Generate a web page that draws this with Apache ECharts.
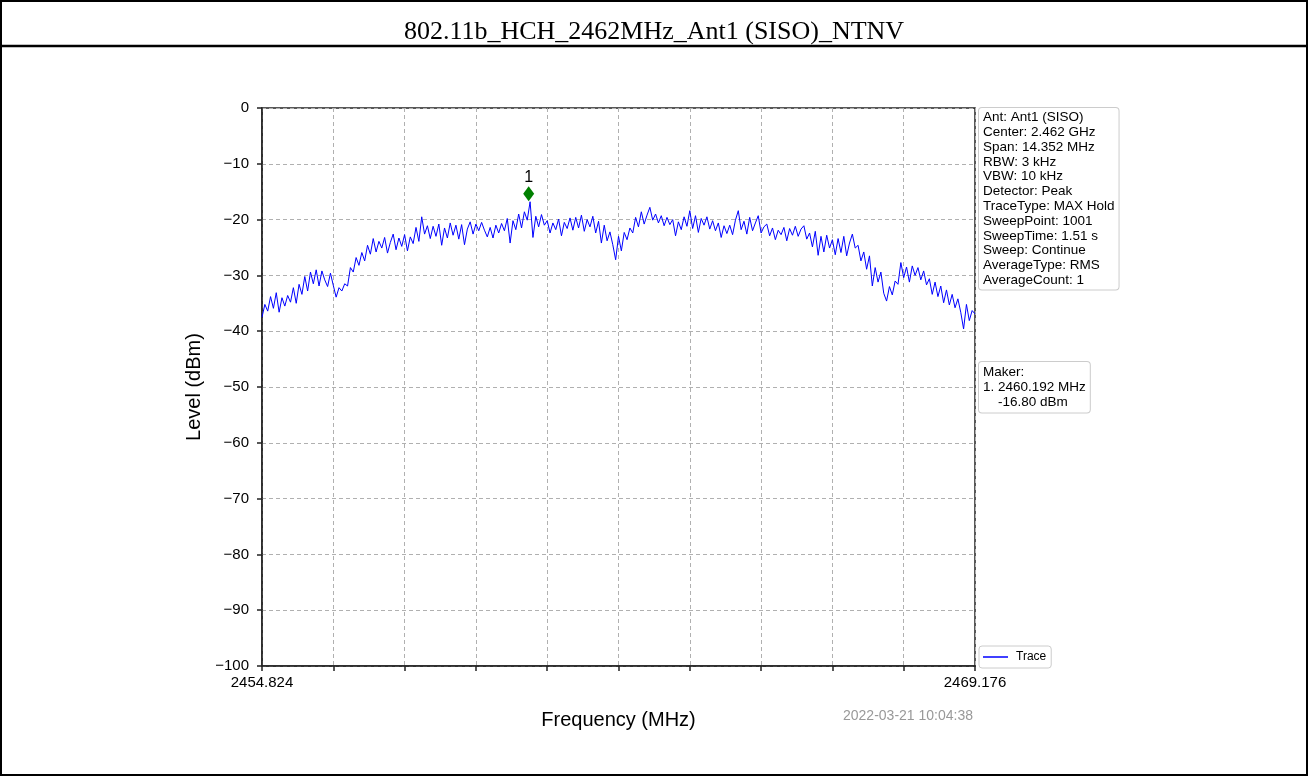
<!DOCTYPE html>
<html>
<head>
<meta charset="utf-8">
<title>802.11b_HCH_2462MHz_Ant1 (SISO)_NTNV</title>
<script src="https://cdn.jsdelivr.net/npm/echarts@6/dist/echarts.min.js"></script>
<style>
  html, body { margin: 0; padding: 0; background: #fff; }
  #chart { width: 1308px; height: 776px; }
</style>
</head>
<body>
<div id="chart"></div>
<script>
// sweep settings (1001 points over the span)
const startFreq = 2454.824;
const stopFreq = 2469.176;
const sweepPoints = 1001;
const sampleStep = 4; // every 4th sweep point

const xTickLabels = ['2454.824', '', '', '', '', '', '', '', '', '', '2469.176'];

// level (dBm) at sweep point 0, 4, 8 ... 1000
const levels = [
  -37.5, -35.2, -36.4, -33.8, -35.9, -33.1, -36.6, -34.0, -35.5, -33.6,
  -34.8, -32.2, -35.0, -31.6, -33.4, -30.2, -32.8, -29.4, -31.5, -29.0,
  -31.9, -29.2, -30.8, -32.0, -29.6, -31.8, -33.9, -32.2, -32.8, -31.5,
  -31.9, -28.6, -29.4, -26.8, -28.2, -25.9, -27.4, -24.6, -26.2, -23.4,
  -25.8, -23.9, -25.1, -23.2, -26.0, -24.1, -22.6, -25.4, -23.3, -24.8,
  -22.7, -25.6, -23.1, -24.3, -21.4, -23.9, -19.5, -22.6, -21.1, -23.4,
  -21.2, -23.0, -20.8, -24.6, -21.5, -23.3, -20.6, -22.8, -21.0, -23.5,
  -20.9, -24.5, -21.7, -20.4, -22.6, -20.8, -22.0, -20.5, -21.9, -23.1,
  -21.4, -23.3, -21.0, -22.4, -20.7, -22.0, -19.8, -24.2, -20.2, -21.8,
  -19.0, -21.5, -18.6, -20.1, -16.8, -23.2, -19.4, -21.3, -19.1, -21.0,
  -20.2, -22.4, -20.6, -21.8, -19.9, -22.9, -20.5, -21.6, -19.7, -21.9,
  -19.6, -21.5, -19.2, -22.1, -20.0, -21.3, -19.4, -22.4, -20.3, -24.2,
  -21.0, -23.8, -22.2, -24.5, -27.2, -23.0, -25.6, -22.3, -23.6, -21.5,
  -22.4, -19.6, -21.3, -18.6, -20.8, -19.2, -17.8, -20.1, -19.0, -20.6,
  -19.3, -21.1, -19.6, -20.9, -20.0, -22.9, -20.4, -21.8, -19.5, -21.2,
  -18.4, -21.6, -19.3, -22.3, -19.8, -21.0, -19.5, -21.7, -20.2, -22.0,
  -20.6, -23.2, -21.1, -22.5, -21.0, -22.7, -20.1, -18.4, -21.8, -20.3,
  -22.6, -19.6, -22.0, -20.6, -19.3, -22.4, -21.3, -20.8, -22.9, -21.5,
  -23.6, -21.9, -22.7, -21.4, -23.8, -21.6, -22.8, -21.2, -23.0, -21.7,
  -21.1, -23.5, -22.4, -24.9, -22.1, -26.4, -23.0, -25.8, -22.8, -25.1,
  -23.6, -26.3, -23.4, -25.9, -23.0, -26.5, -24.2, -22.6, -25.1, -24.6,
  -27.4, -25.8, -28.9, -26.5, -31.9, -28.6, -31.2, -29.4, -33.2, -34.6,
  -32.0, -33.5, -31.0, -31.6, -27.7, -30.4, -28.5, -31.2, -28.3, -30.0,
  -28.6, -30.8, -29.2, -31.7, -30.6, -33.4, -31.2, -33.8, -31.9, -34.9,
  -32.6, -35.3, -33.4, -35.8, -34.2, -36.6, -39.6, -35.2, -38.1, -36.3,
  -36.9
];

// marker 1
const markerFreq = 2460.192;
const markerLevel = -16.80;

const infoLines = [
  'Ant: Ant1 (SISO)',
  'Center: 2.462 GHz',
  'Span: 14.352 MHz',
  'RBW: 3 kHz',
  'VBW: 10 kHz',
  'Detector: Peak',
  'TraceType: MAX Hold',
  'SweepPoint: 1001',
  'SweepTime: 1.51 s',
  'Sweep: Continue',
  'AverageType: RMS',
  'AverageCount: 1'
];
const markerLines = [
  'Maker:',
  '1. 2460.192 MHz',
  '    -16.80 dBm'
];
const timeStamp = '2022-03-21 10:04:38';

const lastPoint = sweepPoints - 1;
const traceData = levels.map((v, i) => [i * sampleStep, v]);
const markerIdx = (markerFreq - startFreq) / (stopFreq - startFreq) * lastPoint;

const sans = '"Liberation Sans", Arial, sans-serif';

let myChart = echarts.init(document.getElementById('chart'));
let option = {
  animation: false,
  backgroundColor: '#fff',
  title: {
    text: '802.11b_HCH_2462MHz_Ant1 (SISO)_NTNV',
    left: 'center',
    top: 14,
    textStyle: {
      fontFamily: '"Liberation Serif", "Times New Roman", serif',
      fontSize: 26,
      fontWeight: 'normal',
      color: '#000'
    }
  },
  grid: {
    left: 262,
    right: 333,
    top: 108,
    bottom: 110,
    show: true,
    borderColor: '#222',
    borderWidth: 1.5,
    backgroundColor: 'transparent'
  },
  legend: {
    data: ['Trace'],
    left: 979,
    top: 646,
    icon: 'rect',
    itemWidth: 25,
    itemHeight: 1.5,
    padding: [5, 5, 5, 4],
    backgroundColor: '#fff',
    borderColor: '#ccc',
    borderWidth: 1,
    borderRadius: 3,
    textStyle: { fontFamily: sans, fontSize: 12, color: '#000', padding: [0, 0, 0, 3] }
  },
  xAxis: {
    type: 'value',
    min: 0,
    max: lastPoint,
    interval: 100,
    name: 'Frequency (MHz)',
    nameLocation: 'middle',
    nameGap: 44,
    nameTextStyle: { fontFamily: sans, fontSize: 20, color: '#000' },
    axisLine: { onZero: false, lineStyle: { color: '#222', width: 1.5 } },
    axisTick: { length: 5, inside: false, lineStyle: { color: '#222', width: 1.5 } },
    axisLabel: {
      fontFamily: sans,
      fontSize: 15,
      color: '#000',
      margin: 9,
      showMinLabel: true,
      showMaxLabel: true,
      formatter: (v) => xTickLabels[Math.round(v / 100)] || ''
    },
    splitLine: { show: true, lineStyle: { color: '#b0b0b0', type: [4, 3], width: 1 } }
  },
  yAxis: {
    type: 'value',
    min: -100,
    max: 0,
    interval: 10,
    name: 'Level (dBm)',
    nameLocation: 'middle',
    nameGap: 58,
    nameTextStyle: { fontFamily: sans, fontSize: 20, color: '#000' },
    axisLine: { show: true, onZero: false, lineStyle: { color: '#222', width: 1.5 } },
    axisTick: { show: true, length: 5, lineStyle: { color: '#222', width: 1.5 } },
    axisLabel: {
      fontFamily: sans,
      fontSize: 15,
      color: '#000',
      margin: 13,
      formatter: (v) => String(v).replace('-', '\u2212')
    },
    splitLine: { show: true, lineStyle: { color: '#b0b0b0', type: [4, 3], width: 1 } }
  },
  series: [
    {
      name: 'Trace',
      type: 'line',
      data: traceData,
      showSymbol: false,
      symbol: 'none',
      lineStyle: { color: '#0000ff', width: 1 },
      itemStyle: { color: '#0000ff' },
      z: 3
    },
    {
      name: 'Marker',
      type: 'scatter',
      data: [[markerIdx, markerLevel]],
      symbol: 'diamond',
      symbolSize: [11, 15],
      symbolOffset: [0, -8],
      itemStyle: { color: '#008000', opacity: 1 },
      label: {
        show: true,
        position: 'top',
        distance: 1,
        formatter: '1',
        fontFamily: sans,
        fontSize: 16,
        color: '#000'
      },
      z: 4
    }
  ],
  graphic: [
    {
      type: 'rect',
      shape: { x: 1, y: 1, width: 1306, height: 774 },
      style: { fill: 'none', stroke: '#000', lineWidth: 2 },
      silent: true
    },
    {
      type: 'line',
      shape: { x1: 0, y1: 46, x2: 1308, y2: 46 },
      style: { stroke: '#000', lineWidth: 2.5 },
      silent: true
    },
    {
      type: 'text',
      left: 978,
      top: 107,
      style: {
        text: infoLines.join('\n'),
        font: '13.5px ' + sans,
        lineHeight: 14.8,
        fill: '#000',
        backgroundColor: '#fff',
        borderColor: '#ccc',
        borderWidth: 1,
        borderRadius: 3,
        padding: [2, 4, 2, 4]
      }
    },
    {
      type: 'text',
      left: 978,
      top: 361,
      style: {
        text: markerLines.join('\n'),
        font: '13.5px ' + sans,
        lineHeight: 14.8,
        fill: '#000',
        backgroundColor: '#fff',
        borderColor: '#ccc',
        borderWidth: 1,
        borderRadius: 3,
        padding: [3, 4, 3, 4]
      }
    },
    {
      type: 'text',
      x: 908,
      y: 716,
      style: {
        text: timeStamp,
        font: '14px ' + sans,
        fill: '#999',
        align: 'center',
        verticalAlign: 'middle'
      }
    }
  ]
};
myChart.setOption(option);
window.onresize = myChart.resize;
</script>
</body>
</html>
